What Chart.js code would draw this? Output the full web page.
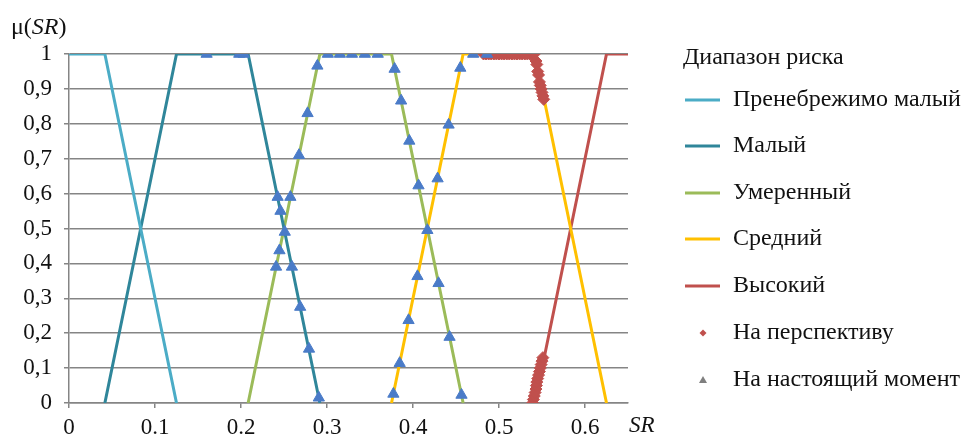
<!DOCTYPE html>
<html>
<head>
<meta charset="utf-8">
<script src="https://cdn.jsdelivr.net/npm/chart.js@4.4.1/dist/chart.umd.min.js"></script>
<style>
  html, body { margin: 0; padding: 0; background: #ffffff; }
  #wrap { width: 963px; height: 435px; position: relative; }
</style>
</head>
<body>
<div id="wrap"><canvas id="c" width="963" height="435"></canvas></div>
<script>
// ---- Data ----
const legendTitle = 'Диапазон риска';
const seriesNames = ['Пренебрежимо малый', 'Малый', 'Умеренный', 'Средний', 'Высокий', 'На перспективу', 'На настоящий момент'];
const seriesColors = ['#4bacc6', '#2f869a', '#9bbb59', '#ffc000', '#c0504d', '#c0504d', '#4a7bc8'];

// membership functions (x = SR, y = μ)
const negligibleX = [0, 0.0417, 0.125];
const negligibleY = [1, 1, 0];
const lowX = [0.0417, 0.125, 0.2083, 0.2917];
const lowY = [0, 1, 1, 0];
const moderateX = [0.2083, 0.2917, 0.375, 0.4583];
const moderateY = [0, 1, 1, 0];
const mediumX = [0.375, 0.4583, 0.5417, 0.625];
const mediumY = [0, 1, 1, 0];
const highX = [0.5417, 0.625, 0.65];
const highY = [0, 1, 1];

// "На перспективу" (red diamonds)
const futureX = [0.482, 0.485, 0.488, 0.491, 0.494, 0.497, 0.500, 0.503, 0.506, 0.509, 0.512, 0.515, 0.518, 0.521, 0.524, 0.527, 0.530, 0.533, 0.536, 0.539, 0.541,
                 0.543, 0.544, 0.545, 0.546, 0.547, 0.548, 0.549, 0.550, 0.551, 0.552,
                 0.539, 0.540, 0.541, 0.542, 0.543, 0.5435, 0.544, 0.545, 0.546, 0.547, 0.548, 0.549, 0.550, 0.551];
const futureY = [1, 1, 1, 1, 1, 1, 1, 1, 1, 1, 1, 1, 1, 1, 1, 1, 1, 1, 1, 1, 1,
                 0.98, 0.97, 0.95, 0.94, 0.92, 0.91, 0.90, 0.89, 0.88, 0.87,
                 0.00, 0.01, 0.02, 0.03, 0.04, 0.05, 0.06, 0.07, 0.08, 0.09, 0.10, 0.11, 0.12, 0.13];

// "На настоящий момент" (blue triangles)
const presentX = [0.160, 0.198, 0.203,
                  0.2426, 0.2459, 0.2509, 0.2592, 0.2688, 0.2791, 0.2905,
                  0.2574, 0.2447, 0.2408, 0.2674, 0.2774, 0.2888,
                  0.301, 0.315, 0.329, 0.344, 0.359,
                  0.3786, 0.3862, 0.3957, 0.4064, 0.4167, 0.4297, 0.4425, 0.4564,
                  0.3772, 0.3845, 0.3948, 0.4052, 0.4286, 0.4414, 0.455,
                  0.470, 0.486];
const presentY = [1, 1, 1,
                  0.59, 0.55, 0.49, 0.39, 0.275, 0.155, 0.015,
                  0.59, 0.437, 0.39, 0.71, 0.83, 0.966,
                  1, 1, 1, 1, 1,
                  0.957, 0.866, 0.751, 0.623, 0.495, 0.343, 0.189, 0.023,
                  0.026, 0.114, 0.237, 0.363, 0.643, 0.797, 0.96,
                  1, 1];

const xTickLabels = ['0', '0.1', '0.2', '0.3', '0.4', '0.5', '0.6'];
const yTickLabels = ['0', '0,1', '0,2', '0,3', '0,4', '0,5', '0,6', '0,7', '0,8', '0,9', '1'];

// ---- Build ----
const FONT = '"Liberation Serif", "Times New Roman", serif';
const FS = 23;
const LFS = 24;
const pts = (xs, ys) => xs.map((x, i) => ({ x: x, y: ys[i] }));
const lineDs = (i, xs, ys) => ({
  label: seriesNames[i], data: pts(xs, ys), showLine: true,
  borderColor: seriesColors[i], backgroundColor: seriesColors[i],
  borderWidth: 3, pointRadius: 0, pointHoverRadius: 0, tension: 0, order: 10
});

const datasets = [
  lineDs(0, negligibleX, negligibleY),
  lineDs(1, lowX, lowY),
  lineDs(2, moderateX, moderateY),
  lineDs(3, mediumX, mediumY),
  lineDs(4, highX, highY),
  { label: seriesNames[5], data: pts(futureX, futureY), showLine: false,
    pointStyle: 'rectRot', pointRadius: 6, backgroundColor: seriesColors[5], borderColor: seriesColors[5], borderWidth: 1, order: 2 },
  { label: seriesNames[6], data: pts(presentX, presentY), showLine: false,
    pointStyle: 'triangle', pointRadius: 6.5, backgroundColor: seriesColors[6], borderColor: seriesColors[6], borderWidth: 1, order: 1 }
];

const PLOT_LEFT = 69, PLOT_RIGHT = 628, PLOT_TOP = 54, PLOT_BOTTOM = 403;

const annot = {
  id: 'annot',
  afterDraw(chart) {
    const ctx = chart.ctx;
    ctx.save();
    ctx.fillStyle = '#111';
    ctx.textBaseline = 'middle';
    // y axis title μ(SR)
    let x = 11;
    const yT = 28;
    const parts = [['μ(', false], ['SR', true], [')', false]];
    parts.forEach(p => {
      ctx.font = (p[1] ? 'italic ' : '') + '24px ' + FONT;
      ctx.textAlign = 'left';
      ctx.fillText(p[0], x, yT);
      x += ctx.measureText(p[0]).width;
    });
    // x axis title SR
    ctx.font = 'italic 23px ' + FONT;
    ctx.fillText('SR', 629, 426);

    // legend
    ctx.font = LFS + 'px ' + FONT;
    ctx.fillText(legendTitle, 683, 58);
    const rows = [100, 146, 193, 239, 286, 333, 380];
    for (let i = 0; i < 7; i++) {
      const y = rows[i];
      if (i < 5) {
        ctx.strokeStyle = seriesColors[i];
        ctx.lineWidth = 3;
        ctx.beginPath(); ctx.moveTo(685, y); ctx.lineTo(720, y); ctx.stroke();
      } else if (i === 5) {
        ctx.fillStyle = seriesColors[5];
        ctx.beginPath(); ctx.moveTo(703, y - 3.5); ctx.lineTo(706.5, y); ctx.lineTo(703, y + 3.5); ctx.lineTo(699.5, y); ctx.closePath(); ctx.fill();
      } else {
        ctx.fillStyle = '#7f7f7f';
        ctx.beginPath(); ctx.moveTo(703, y - 4); ctx.lineTo(707, y + 3); ctx.lineTo(699, y + 3); ctx.closePath(); ctx.fill();
      }
      ctx.fillStyle = '#111';
      ctx.fillText(seriesNames[i], 733, y);
    }
    ctx.restore();
  }
};

new Chart(document.getElementById('c'), {
  type: 'scatter',
  data: { datasets: datasets },
  options: {
    responsive: false,
    animation: false,
    layout: { padding: { left: 0, top: PLOT_TOP, right: 963 - PLOT_RIGHT, bottom: 0 } },
    plugins: { legend: { display: false }, tooltip: { enabled: false } },
    scales: {
      x: {
        type: 'linear', min: 0, max: 0.65,
        afterFit: s => { s.height = 435 - PLOT_BOTTOM; },
        border: { display: true, color: '#858585', width: 1.5 },
        grid: { drawOnChartArea: false, drawTicks: true, tickLength: 5, color: '#858585', lineWidth: 1.5 },
        ticks: {
          stepSize: 0.1, includeBounds: false, padding: 6, color: '#111',
          font: { family: FONT, size: FS },
          callback: (v) => { const i = Math.round(v * 10); return xTickLabels[i]; }
        }
      },
      y: {
        type: 'linear', min: 0, max: 1,
        afterFit: s => { s.width = PLOT_LEFT; },
        border: { display: true, color: '#858585', width: 1.5 },
        grid: { drawOnChartArea: true, drawTicks: true, tickLength: 5, color: '#858585', lineWidth: 1.5 },
        ticks: {
          stepSize: 0.1, padding: 12, color: '#111',
          font: { family: FONT, size: FS },
          callback: (v) => { const i = Math.round(v * 10); return yTickLabels[i]; }
        }
      }
    }
  },
  plugins: [annot]
});
</script>
</body>
</html>
